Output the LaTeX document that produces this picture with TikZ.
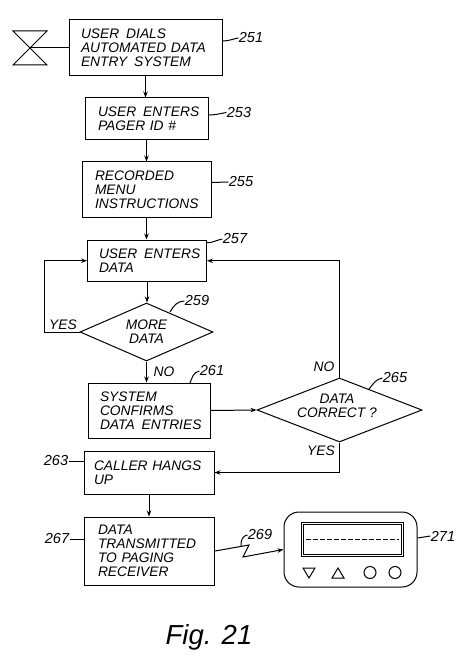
\documentclass[tikz,border=0pt]{standalone}
\usepackage{fontspec}
\setmainfont{Liberation Sans}
\usetikzlibrary{arrows.meta,positioning,shapes.geometric}

\begin{document}
\begin{tikzpicture}[x=1pt, y=-1pt, >={Stealth[length=6pt,width=4.5pt]}, line width=1pt,
    every node/.style={font=\fontsize{13.8}{14}\selectfont\itshape, inner sep=0pt},
    stepbox/.style={draw, align=left},
    decide/.style={draw, diamond, align=center},
    refnum/.style={font=\fontsize{14.5}{14}\selectfont\itshape}]
  \useasboundingbox (0,0) rectangle (474,668);

  % Start symbol
  \coordinate (waist) at (30,48);
  \draw (waist) -- (13,31) -- (47,31) -- (13,65) -- (47,65) -- (waist);

  % Boxes
  \node[stepbox, minimum width=153pt, minimum height=56pt, text width=129pt] (dials) at (145.5,47.5)
    {USER\enspace DIALS\\AUTOMATED DATA\\ENTRY\enspace SYSTEM};
  \node[stepbox, minimum width=123pt, minimum height=42pt, text width=97pt] (pagerid) at (146.5,119)
    {\mbox{USER\enspace ENTERS}\\PAGER ID \#};
  \node[stepbox, minimum width=129pt, minimum height=55pt, text width=103pt] (menu) at (146.5,189.5)
    {RECORDED\\MENU\\INSTRUCTIONS};
  \node[stepbox, minimum width=119pt, minimum height=41.5pt, text width=96pt] (enters) at (147,260.75)
    {\mbox{USER\enspace ENTERS}\\DATA};
  \node[stepbox, minimum width=122pt, minimum height=55pt, text width=98pt] (confirms) at (149,410.5)
    {SYSTEM\\CONFIRMS\\\mbox{DATA\enspace ENTRIES}};
  \node[stepbox, minimum width=130pt, minimum height=43pt, text width=110pt] (hangs) at (149,472.5)
    {CALLER HANGS\\UP};
  \node[stepbox, minimum width=130pt, minimum height=68pt, text width=103pt] (transmit) at (149.5,551)
    {DATA\\TRANSMITTED\\TO PAGING\\RECEIVER};

  % Decisions
  \node[decide, aspect=2.3, minimum width=133pt, minimum height=58pt] (more) at (146.5,332)
    {MORE\\DATA};
  \node[decide, aspect=2.58, minimum width=165pt, minimum height=64pt] (correct) at (339.5,410) {};
  \node[align=center] (correcttxt) at (337,406) {DATA\\CORRECT ?};

  % Paging receiver
  \node[draw, rounded corners=15pt, minimum width=133pt, minimum height=75pt] (receiver) at (350.5,549.5) {};
  \node[draw, double, double distance=1.2pt, minimum width=100pt, minimum height=32pt] (screen) at (352.5,539.5) {};
  \draw[dash pattern=on 5pt off 2pt, line width=0.7pt] ([xshift=4pt]screen.west) -- ([xshift=-4pt]screen.east);
  \draw (303,568) -- (315,568) -- (309,578) -- cycle;
  \draw (332,578) -- (344,578) -- (338,568) -- cycle;
  \foreach \x in {370,395} {\draw (\x,572.5) circle (6pt);}

  % Flow
  \draw (waist) -- (waist -| dials.west);
  \draw[->] (dials.south) -- (dials.south |- pagerid.north);
  \draw[->] (pagerid) -- (pagerid |- menu.north);
  \draw[->] (menu) -- (menu |- enters.north);
  \draw[->] (enters) -- (enters |- more.north);
  \draw[->] (more) -- (more |- confirms.north);
  \draw[->] (more.west) -- (44,332) |- (enters.west);
  \draw[->] (confirms.east) -- (correct.west);
  \draw[->] (correct.north) |- (enters.east);
  \draw[->] (correct.south) |- (hangs.east);
  \draw[->] (hangs) -- (hangs |- transmit.north);

  % Wireless link
  \coordinate (zigtop) at (249,545);
  \coordinate (zigbot) at (243,557);
  \draw[->] (transmit.east) -- (zigtop) -- (zigbot) -- (receiver.west);

  % Answers
  \node (yesleft) at (63,325) {YES};
  \node (noleft) at (164,372) {NO};
  \node (noright) at (324,367) {NO};
  \node (yesright) at (321,451) {YES};

  % Reference numbers
  \node[refnum] (r251) at (251,38) {251};
  \node[refnum] (r253) at (239,112.5) {253};
  \node[refnum] (r255) at (241,182) {255};
  \node[refnum] (r257) at (235,239) {257};
  \node[refnum] (r259) at (197,301) {259};
  \node[refnum] (r261) at (212,371) {261};
  \node[refnum] (r263) at (56,461) {263};
  \node[refnum] (r265) at (395,378) {265};
  \node[refnum] (r267) at (57,539) {267};
  \node[refnum] (r269) at (260,535) {269};
  \node[refnum] (r271) at (443,536) {271};
  \draw ([yshift=6.5pt]dials.east) to[out=0, in=190] (r251.west);
  \draw ([yshift=4pt]pagerid.east) to[out=0, in=190] (r253.west);
  \draw ([yshift=7pt]menu.east) -- (r255.west);
  \draw ([yshift=18pt]enters.east) to[out=0, in=190] (r257.west);
  \draw (170,312) to[out=60, in=180] (r259.west);
  \draw (190,383) to[out=70, in=190] (r261.west);
  \draw (r263.east) -- (hangs.west |- r263);
  \draw (369,389) to[out=50, in=190] (r265.west);
  \draw (r267.east) -- (transmit.west |- r267);
  \draw (241,546.5) to[out=95, in=185] (r269.west);
  \draw ([yshift=11.5pt]receiver.east) -- (r271.west);

  % Caption
  \node[font=\fontsize{27.5}{30}\selectfont\itshape] (caption) at (209,637) {Fig. 21};
\end{tikzpicture}
\end{document}
